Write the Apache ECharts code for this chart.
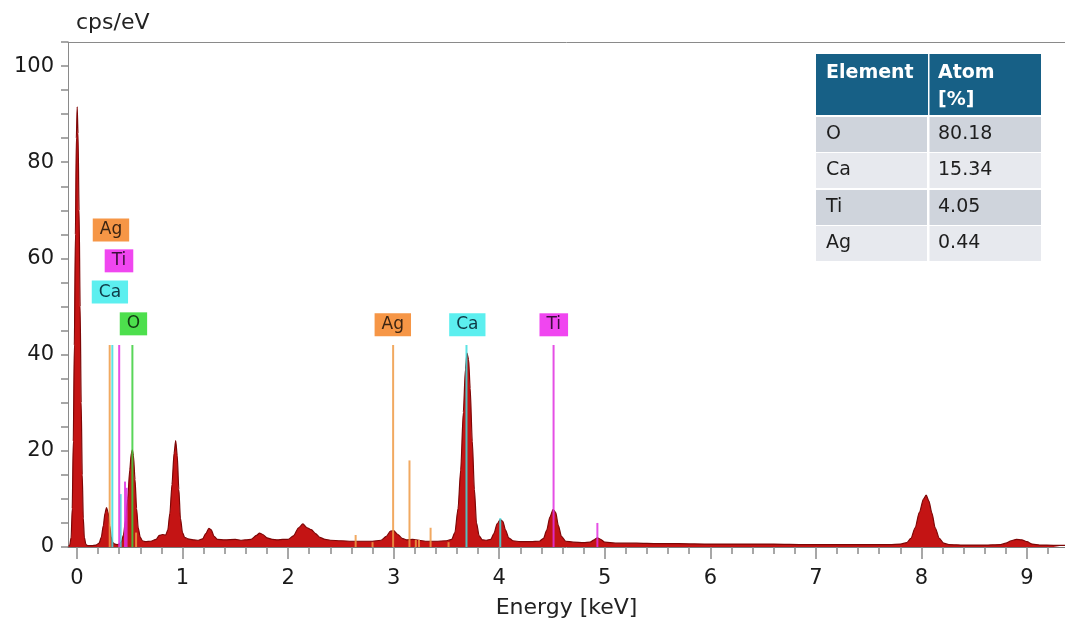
<!DOCTYPE html>
<html>
<head>
<meta charset="utf-8">
<script src="https://cdn.jsdelivr.net/npm/echarts@6/dist/echarts.min.js"></script>
<style>
  html, body { margin: 0; padding: 0; background: #ffffff; }
  #chart { width: 1065px; height: 624px; }
</style>
</head>
<body>
<div id="chart"></div>
<script>
// EDS spectrum: energy (keV) and intensity (cps/eV)
const energyKeV = [
  -0.08, -0.07, -0.055, -0.045, -0.035, -0.025, -0.015, -0.006, 0.002, 0.01, 0.02, 0.03, 0.04, 0.05,
  0.06, 0.07, 0.085, 0.10, 0.14, 0.18, 0.21, 0.23, 0.25, 0.265, 0.28, 0.295, 0.31, 0.325, 0.34,
  0.36, 0.38, 0.40, 0.42, 0.44, 0.46, 0.48, 0.50, 0.515, 0.525, 0.535, 0.55, 0.565, 0.58, 0.60,
  0.62, 0.65, 0.70, 0.75, 0.78, 0.81, 0.84, 0.86, 0.88, 0.90, 0.92, 0.935, 0.95, 0.965, 0.98,
  1.0, 1.02, 1.05, 1.10, 1.15, 1.19, 1.22, 1.25, 1.27, 1.30, 1.33, 1.40, 1.50, 1.55, 1.60,
  1.65, 1.70, 1.73, 1.76, 1.80, 1.85, 1.90, 1.95, 2.00, 2.05, 2.10, 2.14, 2.18, 2.22, 2.26,
  2.30, 2.35, 2.40, 2.50, 2.60, 2.70, 2.80, 2.88, 2.93, 2.97, 3.00, 3.04, 3.08, 3.12, 3.18,
  3.24, 3.30, 3.40, 3.50, 3.55, 3.58, 3.61, 3.635, 3.66, 3.68, 3.695, 3.71, 3.725, 3.745, 3.765,
  3.785, 3.81, 3.84, 3.88, 3.92, 3.95, 3.98, 4.01, 4.035, 4.06, 4.09, 4.13, 4.20, 4.30, 4.38,
  4.42, 4.45, 4.48, 4.51, 4.535, 4.56, 4.59, 4.63, 4.70, 4.80, 4.86, 4.90, 4.93, 4.96, 5.00,
  5.10, 5.30, 5.50, 5.70, 6.00, 6.30, 6.60, 6.90, 7.20, 7.50, 7.70, 7.80, 7.86, 7.90, 7.94,
  7.98, 8.02, 8.045, 8.07, 8.10, 8.13, 8.17, 8.21, 8.26, 8.40, 8.60, 8.75, 8.80, 8.85, 8.90,
  8.95, 9.00, 9.05, 9.12, 9.25, 9.36
];
const countsCps = [
  0.2, 0.3, 2, 8, 22, 42, 65, 85, 91.5, 86, 70, 50, 30, 15,
  6, 2, 0.5, 0.3, 0.3, 0.4, 0.8, 2, 4.5, 7, 8.2, 7.2, 4.5, 2, 0.9,
  0.6, 0.5, 0.6, 1, 2.5, 5.5, 10, 16, 19.5, 20.2, 19, 14, 8, 4, 2,
  1.3, 1.1, 1.2, 1.6, 2.4, 2.6, 2.5, 3.5, 7, 13, 19.5, 22.1, 19, 12, 6,
  3, 2, 1.7, 1.5, 1.4, 1.7, 2.8, 3.9, 3.6, 2.2, 1.6, 1.5, 1.6, 1.4, 1.5,
  1.6, 2.4, 2.9, 2.6, 1.9, 1.6, 1.5, 1.6, 1.6, 2.3, 4, 4.8, 4.0, 3.6, 2.8,
  2.0, 1.6, 1.4, 1.3, 1.2, 1.2, 1.2, 1.4, 2.2, 3.3, 3.4, 2.6, 1.8, 1.5, 1.6,
  1.4, 1.2, 1.2, 1.3, 1.6, 3, 8, 16, 28, 37, 40.3, 39, 33, 22, 12,
  5, 2.3, 1.5, 1.4, 1.6, 2.8, 4.8, 5.7, 5.3, 3.5, 1.9, 1.3, 1.1, 1.1, 1.2,
  1.8, 3.5, 6.2, 7.8, 7.2, 4.5, 2.2, 1.2, 1.0, 0.9, 1.0, 1.5, 1.9, 1.6, 1.0,
  0.8, 0.8, 0.7, 0.7, 0.6, 0.6, 0.6, 0.5, 0.5, 0.5, 0.5, 0.6, 0.9, 1.8, 4,
  7.2, 10, 10.8, 9.6, 7, 4, 1.8, 0.8, 0.5, 0.4, 0.4, 0.5, 0.8, 1.3, 1.6,
  1.5, 1.1, 0.6, 0.4, 0.35, 0.35
];

// Characteristic line markers per element: energy (keV) and marker height (cps/eV)
const agLineKeV = [0.31, 0.56, 2.64, 2.80, 2.995, 3.15, 3.21, 3.24, 3.35, 3.52];
const agLineCps = [42, 3, 2.5, 1, 42, 18, 1.5, 1.5, 4, 1];
const caLineKeV = [0.335, 0.414, 3.69, 4.01];
const caLineCps = [42, 11, 42, 6];
const tiLineKeV = [0.40, 0.455, 0.47, 4.515, 4.93];
const tiLineCps = [42, 13.6, 12.3, 42, 5];
const oLineKeV = [0.525];
const oLineCps = [42];

// Element tags above the marker lines
const tagNames = ['Ag', 'Ti', 'Ca', 'O', 'Ag', 'Ca', 'Ti'];

// Quantification table
const tableElements = ['O', 'Ca', 'Ti', 'Ag'];
const tableAtomPct = ['80.18', '15.34', '4.05', '0.44'];

// Axis tick labels
const xTickLabels = [0, 1, 2, 3, 4, 5, 6, 7, 8, 9];
const yTickLabels = [0, 20, 40, 60, 80, 100];

const FONT = 'DejaVu Sans';
const elementStyle = {
  Ag: { line: '#ee9a45', box: '#f69646', text: '#3b2412' },
  Ca: { line: '#3fdede', box: '#5cefef', text: '#0f3b47' },
  Ti: { line: '#e030e0', box: '#f046f0', text: '#3a0f3a' },
  O:  { line: '#3ccf3c', box: '#4ddf4d', text: '#123a12' }
};

// tag anchor points in axis units (keV, cps/eV)
const tagAnchors = [
  [0.322, 65.9], [0.398, 59.5], [0.312, 53.0], [0.535, 46.4],
  [2.992, 46.2], [3.698, 46.2], [4.517, 46.2]
];

const spectrum = energyKeV.map((e, i) => [e, countsCps[i]]);
const pairs = (xs, ys) => xs.map((x, i) => [x, ys[i]]);

function lineMarkerSeries(name, xs, ys) {
  const color = elementStyle[name].line;
  return {
    type: 'custom',
    name: name,
    xAxisIndex: 0,
    yAxisIndex: 0,
    z: 5,
    silent: true,
    data: pairs(xs, ys),
    renderItem: function (params, api) {
      const p0 = api.coord([api.value(0), 0]);
      const p1 = api.coord([api.value(0), api.value(1)]);
      return {
        type: 'line',
        shape: { x1: p0[0], y1: p0[1], x2: p1[0], y2: p1[1] },
        style: { stroke: color, lineWidth: 2, opacity: 0.85 }
      };
    }
  };
}

const minorTicks = [];
for (let i = 0; i <= 46; i++) minorTicks.push(+(i * 0.2).toFixed(1));

const xMin = -0.085, xMax = 9.36;

const tableGraphics = (function () {
  const g = [];
  const left = 816, mid = 928, right = 1041;
  g.push({ type: 'rect', shape: { x: left, y: 54, width: right - left, height: 61 }, style: { fill: '#176086' } });
  g.push({ type: 'rect', shape: { x: mid, y: 54, width: 1.5, height: 61 }, style: { fill: '#ffffff' } });
  g.push({ type: 'text', style: { text: 'Element', x: 826, y: 73, verticalAlign: 'middle', fill: '#ffffff', font: 'bold 19px ' + FONT } });
  g.push({ type: 'text', style: { text: 'Atom', x: 938, y: 73, verticalAlign: 'middle', fill: '#ffffff', font: 'bold 19px ' + FONT } });
  g.push({ type: 'text', style: { text: '[%]', x: 938, y: 100, verticalAlign: 'middle', fill: '#ffffff', font: 'bold 19px ' + FONT } });
  const rowTops = [117, 153, 190, 226];
  const rowH = 35;
  tableElements.forEach((el, i) => {
    const fill = i % 2 === 0 ? '#cfd4dc' : '#e7e9ee';
    g.push({ type: 'rect', shape: { x: left, y: rowTops[i], width: mid - left - 1, height: rowH }, style: { fill: fill } });
    g.push({ type: 'rect', shape: { x: mid + 1.5, y: rowTops[i], width: right - mid - 1.5, height: rowH }, style: { fill: fill } });
    g.push({ type: 'text', style: { text: el, x: 826, y: rowTops[i] + rowH / 2, verticalAlign: 'middle', fill: '#1e1e1e', font: '19px ' + FONT } });
    g.push({ type: 'text', style: { text: tableAtomPct[i], x: 938, y: rowTops[i] + rowH / 2, verticalAlign: 'middle', fill: '#1e1e1e', font: '19px ' + FONT } });
  });
  return g;
})();

const chart = echarts.init(document.getElementById('chart'), null, { renderer: 'canvas' });

chart.setOption({
  animation: false,
  backgroundColor: '#ffffff',
  grid: { left: 68, right: 0, top: 42, bottom: 77, containLabel: false },
  xAxis: [
    {
      type: 'value', min: xMin, max: xMax, position: 'bottom',
      name: 'Energy [keV]', nameLocation: 'middle', nameGap: 50,
      nameTextStyle: { fontFamily: FONT, fontSize: 22, color: '#222222' },
      axisLine: { show: true, onZero: false, lineStyle: { color: '#7a7a7a', width: 1 } },
      axisTick: { show: true, customValues: xTickLabels, length: 12, lineStyle: { color: '#8a8a8a', width: 1.5 } },
      axisLabel: { show: true, customValues: xTickLabels, margin: 21, fontFamily: FONT, fontSize: 21, color: '#1a1a1a' },
      splitLine: { show: false }
    },
    {
      type: 'value', min: xMin, max: xMax, position: 'bottom',
      axisLine: { show: false },
      axisTick: { show: true, customValues: minorTicks, length: 7, lineStyle: { color: '#8a8a8a', width: 1.5 } },
      axisLabel: { show: false },
      splitLine: { show: false }
    },
    {
      type: 'value', min: xMin, max: xMax, position: 'top',
      axisLine: { show: true, onZero: false, lineStyle: { color: '#8a8a8a', width: 1 } },
      axisTick: { show: false },
      axisLabel: { show: false },
      splitLine: { show: false }
    }
  ],
  yAxis: {
    type: 'value', min: 0, max: 105, interval: 5,
    name: 'cps/eV', nameLocation: 'end', nameGap: 8,
    nameTextStyle: { fontFamily: FONT, fontSize: 22, color: '#222222', align: 'left', padding: [0, 0, 0, 8] },
    axisLine: { show: true, onZero: false, lineStyle: { color: '#8a8a8a', width: 1 } },
    axisTick: { show: true, inside: false, length: 7, lineStyle: { color: '#8a8a8a', width: 1.5 } },
    axisLabel: {
      margin: 14, fontFamily: FONT, fontSize: 21, color: '#1a1a1a',
      formatter: v => (yTickLabels.indexOf(v) >= 0 ? String(v) : '')
    },
    splitLine: { show: false }
  },
  graphic: tableGraphics,
  series: [
    {
      type: 'line',
      name: 'spectrum',
      data: spectrum,
      xAxisIndex: 0,
      showSymbol: false,
      smooth: 0.25,
      smoothMonotone: 'x',
      z: 3,
      lineStyle: { color: '#7e0606', width: 1.2 },
      areaStyle: { color: '#c41414', opacity: 1 },
      silent: true
    },
    lineMarkerSeries('Ag', agLineKeV, agLineCps),
    lineMarkerSeries('Ca', caLineKeV, caLineCps),
    lineMarkerSeries('Ti', tiLineKeV, tiLineCps),
    lineMarkerSeries('O', oLineKeV, oLineCps),
    {
      type: 'custom',
      name: 'tags',
      z: 6,
      silent: true,
      data: tagAnchors.map((a, i) => [a[0], a[1], i]),
      renderItem: function (params, api) {
        const name = tagNames[api.value(2)];
        const st = elementStyle[name];
        const p = api.coord([api.value(0), api.value(1)]);
        return {
          type: 'text',
          style: {
            text: name, x: p[0], y: p[1], align: 'center', verticalAlign: 'middle',
            font: '17px ' + FONT, fill: st.text,
            backgroundColor: st.box, padding: [3, 7, 3, 7]
          }
        };
      }
    }
  ]
});
</script>
</body>
</html>
